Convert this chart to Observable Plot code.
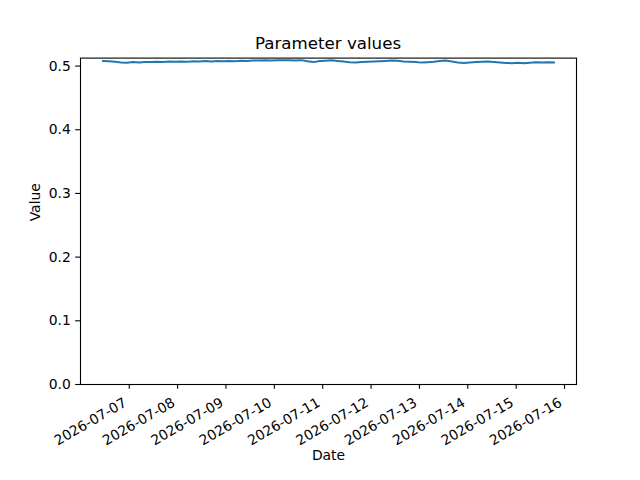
<!DOCTYPE html>
<html>
<head>
<meta charset="utf-8">
<script src="https://cdn.jsdelivr.net/npm/d3@7"></script>
<script src="https://cdn.jsdelivr.net/npm/@observablehq/plot@0.6"></script>
<style>
  html, body { margin: 0; padding: 0; background: #fff; }
  #wrap { width: 640px; height: 480px; overflow: hidden; font-family: "DejaVu Sans", sans-serif; }
  #title { box-sizing: border-box; height: 53px; padding-top: 33.6px; padding-left: 80px; width: 576px;
           text-align: center; font-size: 16.67px; line-height: 19.4px; color: #000; white-space: nowrap; }
  svg { display: block; }
</style>
</head>
<body>
<div id="wrap">
  <div id="title">Parameter values</div>
  <div id="chart"></div>
</div>
<script>
// ---- data ----
const chartTitle = "Parameter values";
const xLabel = "Date";
const yLabel = "Value";
const startTime = "2026-07-06T11:00Z";
const stepMinutes = 179;
const values = [
  0.5079, 0.5075, 0.5068, 0.5056, 0.5053, 0.5062, 0.5057, 0.5065, 0.5062, 0.5068,
  0.5064, 0.5071, 0.5067, 0.5073, 0.5068, 0.5075, 0.5071, 0.5078, 0.5073, 0.5079,
  0.5075, 0.5081, 0.5076, 0.5082, 0.5079, 0.5086, 0.5087, 0.5092, 0.5089, 0.5093,
  0.5090, 0.5092, 0.5087, 0.5093, 0.5075, 0.5062, 0.5078, 0.5084, 0.5090, 0.5081,
  0.5073, 0.5059, 0.5056, 0.5064, 0.5068, 0.5071, 0.5075, 0.5081, 0.5089, 0.5082,
  0.5071, 0.5067, 0.5062, 0.5054, 0.5060, 0.5068, 0.5081, 0.5087, 0.5073, 0.5057,
  0.5049, 0.5057, 0.5062, 0.5067, 0.5071, 0.5065, 0.5056, 0.5049, 0.5045, 0.5051,
  0.5046, 0.5053, 0.5059, 0.5054, 0.5060, 0.5057
];
const xTickLabels = ["2026-07-07","2026-07-08","2026-07-09","2026-07-10","2026-07-11",
                     "2026-07-12","2026-07-13","2026-07-14","2026-07-15","2026-07-16"];
const yTicks = [0.0, 0.1, 0.2, 0.3, 0.4, 0.5];
const yMax = 0.5125;

// ---- build ----
document.getElementById("title").textContent = chartTitle;
const t0 = new Date(startTime).getTime();
const rows = values.map((v, i) => ({date: new Date(t0 + i * stepMinutes * 60000), value: v}));
const tickDates = xTickLabels.map(s => new Date(s + "T00:00Z"));
const ext = d3.extent(rows, d => d.date.getTime());
const pad = (ext[1] - ext[0]) * 0.05;

const fs = 13.9;
const tk = 4.86;

const plot = Plot.plot({
  width: 640,
  height: 427,
  marginLeft: 80,
  marginRight: 64,
  marginTop: 4.6,
  marginBottom: 96,
  style: {fontFamily: "DejaVu Sans, sans-serif", fontSize: fs + "px", color: "#000", background: "#fff"},
  x: {type: "utc", domain: [new Date(ext[0] - pad), new Date(ext[1] + pad)]},
  y: {domain: [0, yMax]},
  marks: [
    Plot.line(rows, {x: "date", y: "value", stroke: "#1f77b4", strokeWidth: 2.0, strokeLinejoin: "round", strokeLinecap: "square"}),
    Plot.frame({stroke: "#000", strokeWidth: 1.1}),
    Plot.axisY({ticks: yTicks, tickFormat: d3.format(".1f"), tickSize: tk, tickPadding: tk, strokeWidth: 1.1, fontSize: fs, label: null}),
    Plot.axisX({ticks: tickDates, tickFormat: () => "", tickSize: tk, strokeWidth: 1.1, label: null}),
    Plot.text(tickDates, {x: d => d, text: (d, i) => xTickLabels[i], frameAnchor: "bottom", rotate: -30,
      textAnchor: "end", lineAnchor: "bottom", dx: -1.6, dy: 20.8, fontSize: fs, fill: "#000"}),
    Plot.text([xLabel], {frameAnchor: "bottom", dy: 75, fontSize: fs, fill: "#000"}),
    Plot.text([yLabel], {frameAnchor: "left", dx: -45, rotate: -90, fontSize: fs, fill: "#000"})
  ]
});
document.getElementById("chart").appendChild(plot);
</script>
</body>
</html>
